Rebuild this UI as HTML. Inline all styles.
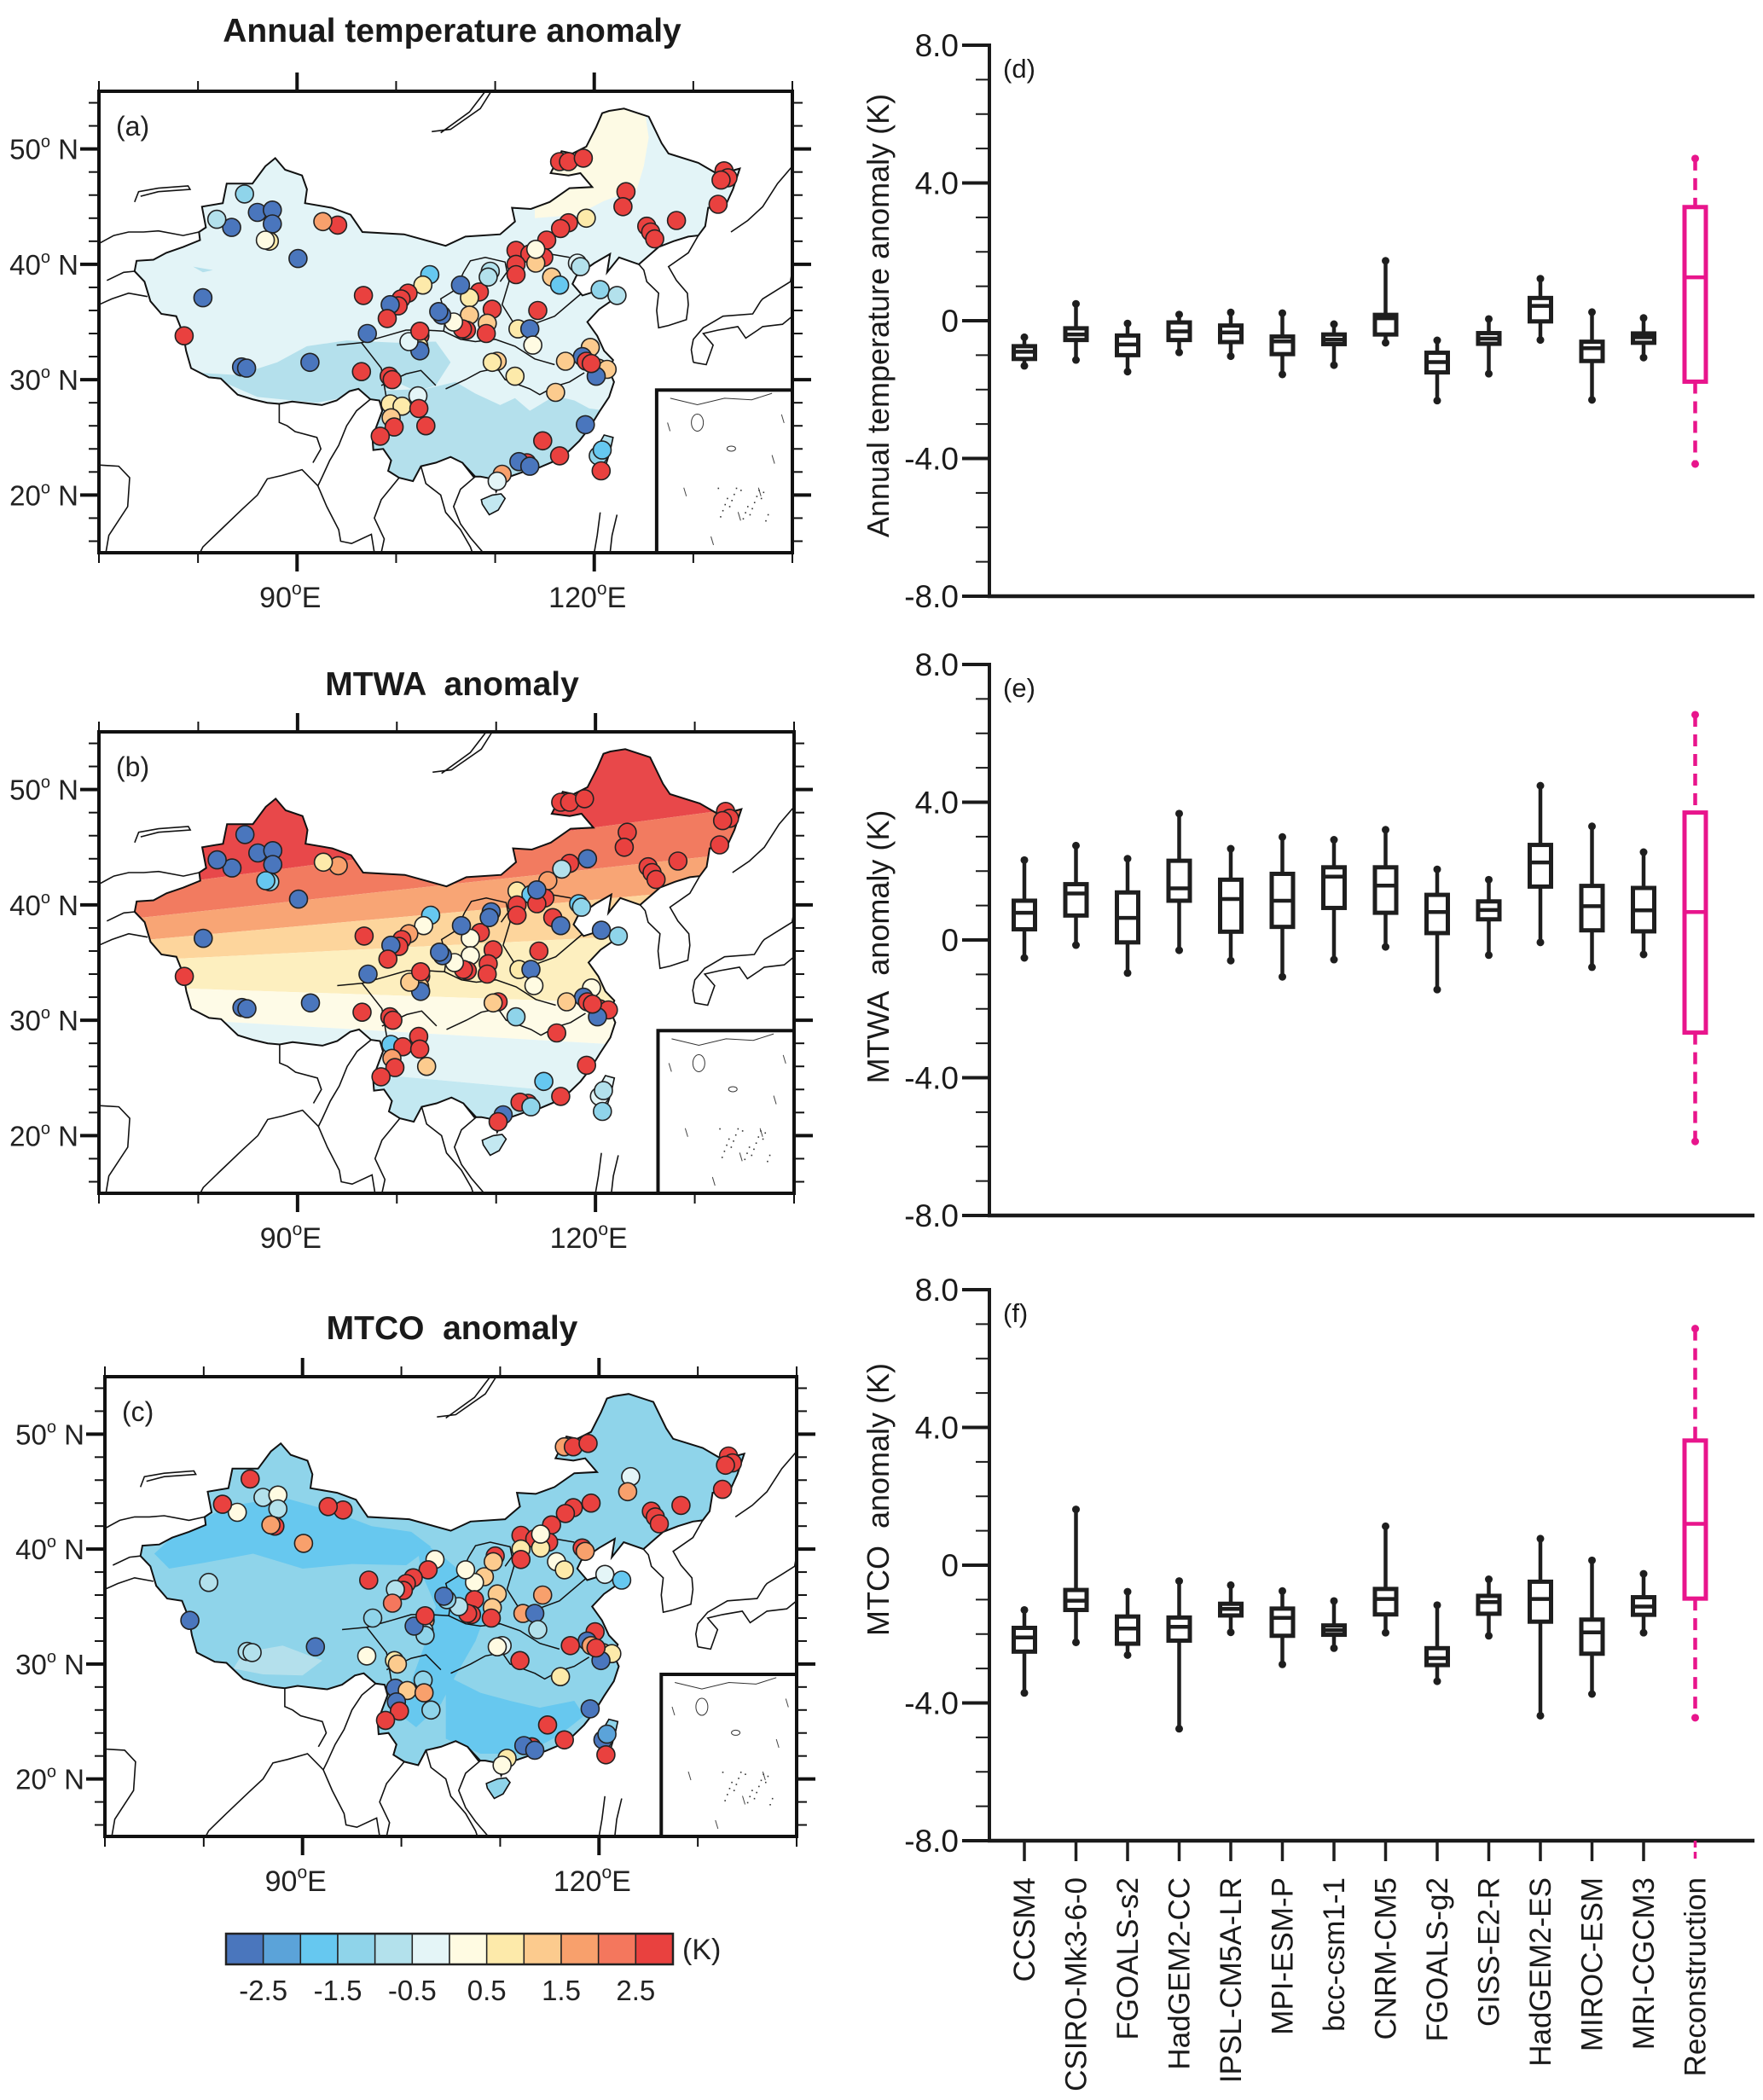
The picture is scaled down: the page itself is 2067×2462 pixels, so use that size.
<!DOCTYPE html>
<html><head><meta charset="utf-8"><style>
html,body{margin:0;padding:0;background:#fff;}
svg{display:block;font-family:"Liberation Sans",Arial,sans-serif;}
text{white-space:pre;}
</style></head><body>
<svg id="fig" xmlns="http://www.w3.org/2000/svg" width="2067" height="2462" viewBox="0 0 2067 2462" xml:space="preserve">
<rect x="0" y="0" width="2067" height="2462" fill="#fff"/>
<defs id="defs"></defs>
<g id="maps"></g>
<g id="boxes"></g>
</svg>
<script>
// ---------------- DATA: boxplots ----------------
const categories = ["CCSM4","CSIRO-Mk3-6-0","FGOALS-s2","HadGEM2-CC","IPSL-CM5A-LR","MPI-ESM-P","bcc-csm1-1","CNRM-CM5","FGOALS-g2","GISS-E2-R","HadGEM2-ES","MIROC-ESM","MRI-CGCM3","Reconstruction"];
const yTickValues = [8, 4, 0, -4, -8];
const yTickLabels = ["8.0", "4.0", "0", "-4.0", "-8.0"];
// Panel d: annual temperature anomaly
const annLow  = [-1.31,-1.14,-1.48,-0.92,-1.03,-1.56,-1.29,-0.64,-2.32,-1.54,-0.56,-2.30,-1.07,-4.16];
const annQ1   = [-1.11,-0.56,-1.00,-0.56,-0.62,-0.97,-0.68,-0.40,-1.50,-0.67,-0.02,-1.17,-0.64,-1.77];
const annMed  = [-0.90,-0.40,-0.69,-0.31,-0.34,-0.60,-0.55,0.07,-1.20,-0.52,0.43,-0.80,-0.48,1.26];
const annQ3   = [-0.74,-0.22,-0.43,-0.05,-0.14,-0.46,-0.40,0.17,-0.93,-0.36,0.66,-0.61,-0.37,3.30];
const annHigh = [-0.48,0.49,-0.08,0.18,0.24,0.22,-0.10,1.74,-0.57,0.05,1.22,0.25,0.08,4.71];
// Panel e: MTWA anomaly
const mtwaLow  = [-0.52,-0.15,-0.96,-0.30,-0.60,-1.07,-0.57,-0.20,-1.44,-0.44,-0.07,-0.79,-0.42,-5.85];
const mtwaQ1   = [0.31,0.71,-0.07,1.14,0.24,0.38,0.93,0.79,0.20,0.60,1.55,0.28,0.25,-2.69];
const mtwaMed  = [0.79,1.35,0.64,1.50,1.19,1.14,1.84,1.58,0.81,0.87,2.25,0.98,0.86,0.81];
const mtwaQ3   = [1.14,1.62,1.38,2.30,1.75,1.92,2.11,2.11,1.31,1.12,2.76,1.57,1.51,3.70];
const mtwaHigh = [2.32,2.74,2.36,3.67,2.65,2.99,2.91,3.20,2.05,1.75,4.48,3.30,2.55,6.54];
// Panel f: MTCO anomaly
const mtcoLow  = [-3.71,-2.24,-2.61,-4.75,-1.95,-2.88,-2.41,-1.96,-3.37,-2.05,-4.37,-3.74,-1.96,-4.43];
const mtcoQ1   = [-2.51,-1.30,-2.28,-2.19,-1.46,-2.05,-2.02,-1.43,-2.90,-1.41,-1.64,-2.57,-1.44,-0.97];
const mtcoMed  = [-2.10,-1.03,-1.84,-1.79,-1.27,-1.53,-1.89,-0.98,-2.70,-1.07,-0.98,-1.95,-1.20,1.20];
const mtcoQ3   = [-1.82,-0.72,-1.49,-1.52,-1.12,-1.26,-1.75,-0.69,-2.41,-0.89,-0.48,-1.58,-0.93,3.62];
const mtcoHigh = [-1.30,1.62,-0.77,-0.46,-0.58,-0.75,-1.04,1.13,-1.16,-0.41,0.77,0.14,-0.25,6.87];

// ---------------- DATA: map stations ----------------
const stationLon = [116.5,117.4,118.9,133.1,133.5,132.8,132.5,123.2,122.9,128.3,125.3,125.7,126.1,119.2,117.4,116.6,115.2,112.1,113.5,114.9,114.1,112.1,112.1,114.1,115.7,118.3,118.6,116.5,120.6,122.3,114.3,112.3,113.5,113.8,109.7,108.4,107.4,109.5,109.3,106.5,107.4,109.2,109.1,107.1,106.7,105.8,104.6,104.3,103.4,102.7,101.2,100.5,100.2,99.4,99.1,96.7,97.1,102.4,102.3,102.4,101.3,99.3,96.5,91.3,84.4,84.9,78.6,80.5,90.1,94.1,92.6,83.4,81.9,84.7,86.0,87.5,87.5,87.2,86.8,119.6,118.8,119.2,120.4,121.3,120.2,119.7,117.1,110.2,109.7,112.0,116.1,119.1,114.8,116.5,113.2,112.4,113.5,110.7,110.2,120.4,120.8,120.7,99.6,102.2,99.4,100.6,99.5,99.8,102.3,103.0,98.4,102.4];
const stationLat = [48.9,48.9,49.2,48.1,47.5,47.3,45.2,46.3,45.0,43.8,43.3,42.8,42.2,44.0,43.6,43.1,42.1,41.2,40.9,40.6,40.1,40.0,39.1,41.3,38.9,40.1,39.8,38.2,37.8,37.3,36.0,34.4,34.4,33.0,36.1,37.6,37.1,39.4,38.9,38.2,35.6,34.9,34.0,34.3,34.4,35.0,35.6,35.9,39.1,38.2,37.5,37.0,36.4,36.5,35.3,37.3,34.0,33.8,32.9,32.5,33.3,30.3,30.7,31.5,31.1,31.0,33.8,37.1,40.5,43.4,43.7,43.2,43.9,46.1,44.5,44.7,43.5,42.0,42.1,32.8,32.0,31.6,31.0,30.9,30.3,31.4,31.6,31.6,31.5,30.3,28.9,26.1,24.7,23.4,22.8,22.9,22.5,21.8,21.2,23.4,23.9,22.1,30.0,28.6,27.9,27.7,26.7,25.9,27.5,26.0,25.1,34.2];
const colorA = [11,11,11,11,11,11,11,11,11,11,11,11,11,7,11,11,11,11,11,11,8,11,11,6,8,5,4,2,3,4,11,7,0,6,11,11,7,4,4,0,8,8,11,11,11,6,0,0,2,7,11,11,11,0,11,11,0,11,7,0,5,11,11,0,0,0,11,0,0,11,9,0,4,3,0,0,0,7,6,8,0,11,8,8,0,11,8,8,7,7,8,0,11,11,11,0,0,9,5,3,2,11,11,5,7,7,8,11,11,11,11,11];
const colorB = [11,11,11,11,11,11,11,11,11,11,11,11,11,0,11,4,9,7,2,11,11,11,11,0,11,2,3,0,0,3,11,7,0,6,11,11,6,0,0,0,6,11,11,11,11,6,0,0,2,6,9,11,11,0,11,11,0,11,8,0,8,11,11,0,0,0,11,0,0,9,7,0,0,0,0,0,0,3,2,6,0,11,11,11,0,11,8,11,8,3,11,11,2,11,11,11,3,0,11,5,4,3,11,11,2,11,9,11,11,8,11,11,11];
const colorC = [9,11,11,11,11,11,11,5,9,11,11,11,11,11,11,11,11,11,11,11,7,7,11,6,6,11,9,7,5,2,9,9,0,4,8,8,6,11,8,6,11,8,11,11,11,4,3,0,6,11,11,11,11,4,10,11,3,9,4,3,0,7,6,0,4,4,0,4,9,11,11,6,11,11,4,6,4,11,9,11,0,9,9,7,0,11,11,5,6,11,7,0,11,11,11,0,0,7,6,0,1,11,8,3,0,8,0,11,9,3,11,11];
const palette = ["#4a76bd","#5ba3d9","#66c8f0","#8fd4ea","#b3e1ec","#e4f5f7","#fffbe2","#fdeaaa","#fccb8e","#f8a06c","#f4775d","#e9413f"];
const colorbarLabels = ["-2.5","-1.5","-0.5","0.5","1.5","2.5"];

// ---------------- geometry (lon/lat) ----------------
const china = [[121.5,53.3],[123,53.5],[125.5,52.8],[126.8,50.5],[127.5,49.6],[130.5,48.8],[132.5,47.8],[134.7,48.3],[134,46.5],[133.2,45],[131.5,44.9],[131.2,43.3],[130.5,42.5],[129.5,42.4],[128,42],[126.5,41.5],[124.5,40],[122.5,40.6],[121.3,39.3],[121.6,40.9],[120,40.1],[118.2,39],[117.8,38.3],[118.8,37.3],[120.7,37.8],[122.5,37.3],[120.5,36.1],[119.3,35],[120.3,33.8],[121,32.5],[121.9,31.7],[121.5,30.8],[122,29.8],[121.5,28.5],[120.5,27.2],[119.5,25.8],[118.5,24.7],[116.7,23.2],[114.5,22.4],[113.5,22.2],[111.5,21.6],[110.6,21.2],[110.1,20.3],[109.7,21.4],[108.5,21.6],[107.8,21.6],[106.7,22.8],[105.5,23.3],[104,22.8],[102.5,22.5],[101.7,21.2],[100.3,21.5],[99.2,22.1],[99.5,23],[98.7,24],[97.7,23.9],[97.6,25],[98.6,27.3],[98.3,28.2],[97.4,28.3],[96.2,29.2],[95.3,29],[94,28.2],[92.5,27.8],[91.5,27.9],[89.5,28.1],[88.2,27.9],[87,28],[85.5,28.3],[84,28.7],[82.3,30.1],[81.1,30.2],[79.3,31],[78.8,32.5],[78.5,34],[77.8,35.5],[76.3,35.7],[75.2,36.8],[74.6,38.5],[73.6,39.4],[73.8,40.3],[75.5,40.4],[76.8,41],[78.5,41.5],[80.2,42.1],[80.1,42.8],[80.8,43.2],[80.4,45],[82.5,45.3],[82.9,47],[85.5,47],[86.8,48.5],[87.8,49.2],[88.8,48.2],[90.5,47.7],[91,46.5],[90.8,45.3],[93.5,44.9],[95.4,44.3],[96.6,42.8],[100.8,42.6],[105,41.6],[107,42.4],[110.5,42.6],[112,43.7],[111.7,44.9],[113.6,44.8],[115.5,45.4],[117.5,46.6],[119.8,46.7],[118.6,47.9],[117.4,47.7],[115.6,47.9],[116.7,49.8],[117.8,49.6],[119.2,50.2],[120.2,51.9],[120.8,53.1]];
const hainan = [[108.7,19.2],[109.4,18.3],[110.3,18.7],[111,19.7],[110.6,20.1],[109.7,20],[108.6,19.6]];
const taiwan = [[121,25.2],[121.9,25],[121.6,23.8],[121,22.1],[120.2,22.6],[120.1,23.6],[120.6,24.6]];
const lines = [
 [[103.6,51.5],[105.5,51.7],[108.5,53.5],[109.6,55]],
 [[104.5,51.4],[107.4,53.2],[109,55]],
 [[73.6,45.4],[74,46.3],[76,46.6],[79,46.8],[79.2,46.5],[76,46.3],[74.2,45.9]],
 [[124.5,40],[125,39.5],[125.3,38.5],[126.5,37.5],[126.3,36],[126.5,34.5],[127.5,34.7],[129.3,35.2],[129.5,36.5],[129.4,37.5],[128.3,38.6],[127.5,39.8],[129.5,41],[130.5,42.5]],
 [[130,31.5],[131.3,31.3],[132,33],[131,34],[132.5,34.3],[134.5,34.6],[135.3,33.6],[136.5,34.3],[137,34.6],[139,34.8],[140,35.5],[140.8,37],[141,38.5],[142,40]],
 [[140.2,40.5],[139.8,38.5],[138.5,37.8],[137,37],[136.8,36.8],[136,35.7],[133,35.5],[131,34.5],[130,33.5],[129.8,32.6],[130,31.5]],
 [[133.8,42.8],[135.5,43.8],[137,45],[138.5,47],[140,48.5],[140.5,50.5],[140.8,52.5],[140.6,55]],
 [[97.4,28.3],[96,27.3],[95,26],[94.2,24.3],[93.3,23],[92.5,21.5],[92.1,20.8]],
 [[88.2,27.9],[88.2,26.3],[89,26],[89.8,25.5],[92,25],[92.4,24],[91.6,22.8]],
 [[92.1,20.8],[90.5,22.2],[88.5,21.7],[87,21.4],[86,20],[84.5,18.8],[82.3,17],[80.5,15.5],[80.2,15]],
 [[92.1,20.8],[93,19],[94.2,17],[94.4,16],[95.5,15.8],[97.5,16.6],[97.8,15]],
 [[100.3,21.5],[98.5,19.6],[97.8,18],[98.8,16.2],[98.5,15]],
 [[102.5,22.5],[103,21],[104.5,20],[105,18.5],[106.5,17],[107.5,15.5],[107.7,15]],
 [[106.7,22.8],[108,21.6],[106.5,20.5],[105.8,19],[106.5,17.5],[107.5,16.3],[108.8,15]],
 [[120.6,18.5],[120.3,16.5],[120,15]],
 [[122.3,18.3],[121.8,16.5],[121.6,15]],
 [[70,41.8],[71.5,42.5],[73,42.8],[74.5,42.8],[76,42.9],[78.5,42.5],[80.1,42.8]],
 [[70.8,38.6],[72.5,39.3],[73.6,39.4]],
 [[70,36.5],[71.3,37],[73,37.5],[74.9,37.2]],
 [[70.7,15],[71,16.5],[72.9,19],[73.1,21.5],[72,22.5],[70,22.6]]
];
const inner = [
 [[96.5,33.2],[99,33.8],[101,34.3],[103,34.3],[104.8,34.2],[106.5,33.5],[108,33.3],[110,33.5],[112,32.9],[114,31.8],[116,31.3]],
 [[104.8,34.2],[105,35.5],[104.5,37],[106,37.8],[106.8,39.3],[107.5,40.3],[109,40.6],[111,40.2],[111.4,38.5],[110.7,36.5],[111.8,35],[113.8,34.8],[116,35.5],[118.6,37.4]],
 [[94,33],[96.5,33.2],[98.5,31],[99,28.5]],
 [[105,29.2],[107,30],[108.5,30.7],[110.2,31],[111,30],[113.5,29.2],[114.5,28.7],[116,29.4],[117.5,29.8],[119,30.6]],
 [[110.5,38.5],[112,40.3],[113.8,40.8],[115.5,40.9],[117.5,40.6]],
 [[98.5,29.5],[101,30.5],[102.5,30.8],[104,29.5]]
];
// shading patches
const shadeA = [
 {c:"#b4e0ec",p:[[79,31],[82,30],[86,28.5],[92,28],[95,28.5],[97,28],[98.5,29],[100.5,29.6],[102,29],[104,29.5],[105.5,31.5],[104,33.3],[100,33.2],[95,33.4],[91,32.9],[88,31.5],[84,30.4],[80,30.6]]},
 {c:"#b4e0ec",p:[[97,29],[103,29.2],[106,29.8],[108,28.8],[110.5,27.8],[112,28.4],[113.5,27.3],[116,28.6],[118,28.2],[119.5,27.5],[124,27],[124,18],[96,18]]},
 {c:"#b4e0ec",p:[[79.5,39.8],[81.5,39.5],[80.5,39.3]]},
 {c:"#fdfae4",p:[[118.3,44.3],[121,45.5],[124.3,46.5],[125,48.5],[125.5,51],[124.8,55],[114,55],[114,44]]}
];
const shadeC = [
 {c:"#67c8ef",p:[[75,39.6],[78,42],[83,43.8],[88,44.5],[93,43.3],[97,42],[101,41.5],[103,40.2],[100.5,38.6],[95,38.7],[90,38.3],[85,39.6],[80,38.8],[76.5,38.3]]},
 {c:"#67c8ef",p:[[101.5,41],[104,39.5],[106.5,37.7],[108.8,35],[107.5,32],[105.5,29],[104,26.5],[101.5,24.5],[100,25.5],[101,28.5],[102.5,32],[103.5,35],[102,38]]},
 {c:"#67c8ef",p:[[104.5,29],[108,27.5],[111,26.8],[114,26.2],[117.5,26.8],[118.5,25.5],[116,23.8],[112.5,22.2],[108,22.2],[104.5,23.5]]},
 {c:"#b4e0ec",p:[[84,31],[88,31.6],[92,30.3],[90,29],[86,29.1],[83,29.6]]}
];
// MTWA bands: boundary latitude at lon 70 and at lon 140 (top boundary of each band)
const bandColors = ["#e8484a","#f27b60","#f8a575","#fdd59c","#fdefbf","#fefbe7","#e3f4f6","#c3e8f1"];
const bandTopW = [60,41,38.5,36.6,35,33,30.5,27.5];
const bandTopE = [60,49,45,42,38,31,27,22];

// ---------------- helpers ----------------
const NS = "http://www.w3.org/2000/svg";
const svg = document.getElementById("fig");
const defs = document.getElementById("defs");
function mk(tag, attrs, parent) {
  const e = document.createElementNS(NS, tag);
  for (const k in attrs) e.setAttribute(k, attrs[k]);
  if (parent) parent.appendChild(e);
  return e;
}

// ---------------- maps ----------------
const panels = [
 {id:"a", title:"Annual temperature anomaly", x0:116, x1:929, y0:107, y1:648, titleY:49, colors:colorA, kind:"a"},
 {id:"b", title:"MTWA  anomaly", x0:116, x1:931, y0:858, y1:1399, titleY:815, colors:colorB, kind:"b"},
 {id:"c", title:"MTCO  anomaly", x0:123, x1:934, y0:1614, y1:2153, titleY:1570, colors:colorC, kind:"c"}
];
const mapsG = document.getElementById("maps");
panels.forEach(P => {
  const px = lon => P.x0 + (lon - 70) * (P.x1 - P.x0) / 70;
  const py = lat => P.y0 + (55 - lat) * (P.y1 - P.y0) / 40;
  const pts = arr => arr.map(q => px(q[0]).toFixed(1) + "," + py(q[1]).toFixed(1)).join(" ");
  const g = mk("g", {}, mapsG);
  
  
  // title
  const t = mk("text", {x:530, y:P.titleY, "text-anchor":"middle", "font-size":39, "font-weight":"bold", fill:"#1a1a1a"}, g);
  t.textContent = P.title;
  
  
  // clip paths
  const cf = mk("clipPath", {id:"frame" + P.id}, defs);
  mk("rect", {x:P.x0, y:P.y0, width:P.x1 - P.x0, height:P.y1 - P.y0}, cf);
  const cc = mk("clipPath", {id:"china" + P.id}, defs);
  mk("polygon", {points:pts(china)}, cc);
  const inner_g = mk("g", {"clip-path":"url(#frame" + P.id + ")"}, g);
  // shading
  const sh = mk("g", {"clip-path":"url(#china" + P.id + ")"}, inner_g);
  
  
  if (P.kind === "a") {
    mk("polygon", {points:pts(china), fill:"#e3f4f7"}, sh);
    shadeA.forEach(s => mk("polygon", {points:pts(s.p), fill:s.c}, sh));
  } else if (P.kind === "c") {
    mk("polygon", {points:pts(china), fill:"#8fd4ea"}, sh);
    shadeC.forEach(s => mk("polygon", {points:pts(s.p), fill:s.c}, sh));
  } else {
    for (let i = 0; i < bandColors.length; i++) {
      const bw = i + 1 < bandColors.length ? bandTopW[i + 1] : 10;
      const be = i + 1 < bandColors.length ? bandTopE[i + 1] : 10;
      mk("polygon", {points:pts([[70, bandTopW[i]], [140, bandTopE[i]], [140, be], [70, bw]]), fill:bandColors[i]}, sh);
    }
  }
  // islands shading
  mk("polygon", {points:pts(hainan), fill:P.kind === "c" ? "#8fd4ea" : "#c3e8f1", stroke:"#111", "stroke-width":1.6}, inner_g);
  mk("polygon", {points:pts(taiwan), fill:P.kind === "c" ? "#8fd4ea" : (P.kind === "a" ? "#b4e0ec" : "#e3f4f6"), stroke:"#111", "stroke-width":1.6}, inner_g);
  // borders
  mk("polygon", {points:pts(china), fill:"none", stroke:"#111", "stroke-width":2}, inner_g);
  lines.forEach(l => mk("polyline", {points:pts(l), fill:"none", stroke:"#111", "stroke-width":1.6}, inner_g));
  inner.forEach(l => mk("polyline", {points:pts(l), fill:"none", stroke:"#111", "stroke-width":1.5}, inner_g));
  // stations
  const sg = mk("g", {}, inner_g);
  
  
  for (let i = 0; i < stationLon.length; i++) {
    const c = mk("circle", {cx:px(stationLon[i]).toFixed(1), cy:py(stationLat[i]).toFixed(1), r:10.5, fill:palette[P.colors[i]], stroke:"#222", "stroke-width":1.6}, sg);
    
    
  }
  // inset (South China Sea)
  const ix = px(126.3), iy = py(29.1);
  const ins = mk("g", {}, g);
  
  
  mk("rect", {x:ix, y:iy, width:P.x1 - ix, height:P.y1 - iy, fill:"#fff", stroke:"#111", "stroke-width":4}, ins);
  const iw = P.x1 - ix, ih = P.y1 - iy;
  mk("polyline", {points:[[0.1,0.05],[0.3,0.09],[0.5,0.05],[0.7,0.06],[0.85,0.02]].map(q => (ix + q[0]*iw) + "," + (iy + q[1]*ih)).join(" "), fill:"none", stroke:"#333", "stroke-width":1}, ins);
  mk("ellipse", {cx:ix + 0.3*iw, cy:iy + 0.2*ih, rx:7, ry:10, fill:"none", stroke:"#333", "stroke-width":1}, ins);
  mk("ellipse", {cx:ix + 0.55*iw, cy:iy + 0.36*ih, rx:5, ry:3, fill:"none", stroke:"#333", "stroke-width":1}, ins);
  [[0.08,0.2],[0.92,0.15],[0.85,0.4],[0.2,0.6],[0.75,0.6],[0.6,0.75],[0.4,0.9]].forEach(q =>
    mk("line", {x1:ix + q[0]*iw, y1:iy + q[1]*ih, x2:ix + q[0]*iw + 3, y2:iy + q[1]*ih + 10, stroke:"#444", "stroke-width":1}, ins));
  for (let k = 0; k < 22; k++) {
    const dx = 0.45 + ((k * 37) % 23) / 60, dy = 0.6 + ((k * 13) % 17) / 80;
    mk("rect", {x:ix + dx*iw, y:iy + dy*ih, width:1.6, height:1.6, fill:"#333"}, ins);
  }
  // frame
  const fr = mk("rect", {x:P.x0, y:P.y0, width:P.x1 - P.x0, height:P.y1 - P.y0, fill:"none", stroke:"#111", "stroke-width":4}, g);
  
  
  // lon ticks
  for (let lon = 70; lon <= 140; lon += 10) {
    const major = (lon === 90 || lon === 120);
    const L = major ? 22 : 12;
    mk("line", {x1:px(lon), y1:P.y0, x2:px(lon), y2:P.y0 - L, stroke:"#111", "stroke-width":major ? 4 : 2}, g);
    mk("line", {x1:px(lon), y1:P.y1, x2:px(lon), y2:P.y1 + L, stroke:"#111", "stroke-width":major ? 4 : 2}, g);
    if (major) {
      const lt = mk("text", {x:px(lon) - 8, y:P.y1 + 64, "text-anchor":"middle", "font-size":34, fill:"#222"}, g);
      lt.innerHTML = lon + '<tspan dy="-15" font-size="21">o</tspan><tspan dy="15">E</tspan>';
      
      
    }
  }
  // lat ticks
  for (let lat = 16; lat <= 54; lat += 2) {
    const major = lat % 10 === 0;
    const L = major ? 22 : 12;
    mk("line", {x1:P.x0, y1:py(lat), x2:P.x0 - L, y2:py(lat), stroke:"#111", "stroke-width":major ? 4 : 2}, g);
    mk("line", {x1:P.x1, y1:py(lat), x2:P.x1 + L, y2:py(lat), stroke:"#111", "stroke-width":major ? 4 : 2}, g);
    if (major) {
      const lt = mk("text", {x:P.x0 - 24, y:py(lat) + 12, "text-anchor":"end", "font-size":33, fill:"#222"}, g);
      lt.innerHTML = lat + '<tspan dy="-14" font-size="20">o</tspan><tspan dy="14"> N</tspan>';
      
      
    }
  }
  const pl = mk("text", {x:P.x0 + 20, y:P.y0 + 52, "font-size":32, fill:"#222"}, g);
  pl.textContent = "(" + P.id + ")";
  
  
});

// colorbar
const cb = mk("g", {}, mapsG);


const cbx0 = 265, cbx1 = 789, cby = 2267, cbh = 36;
const cw = (cbx1 - cbx0) / palette.length;
palette.forEach((c, i) => {
  const r = mk("rect", {x:cbx0 + i*cw, y:cby, width:cw, height:cbh, fill:c, stroke:"#222", "stroke-width":1.5}, cb);
  
  
});
mk("rect", {x:cbx0, y:cby, width:cbx1 - cbx0, height:cbh, fill:"none", stroke:"#222", "stroke-width":2.5}, cb);
colorbarLabels.forEach((s, i) => {
  const t = mk("text", {x:cbx0 + (2*i + 1)*cw, y:2345, "text-anchor":"middle", "font-size":33, fill:"#222"}, cb);
  t.textContent = s;
  
  
});
const ku = mk("text", {x:800, y:2297, "font-size":34, fill:"#222"}, cb);
ku.textContent = "(K)";



// ---------------- boxplots ----------------
const boxPanels = [
 {id:"d", title:"Annual temperature anomaly (K)", center:376, low:annLow, q1:annQ1, med:annMed, q3:annQ3, high:annHigh, titleY:370},
 {id:"e", title:"MTWA  anomaly (K)", center:1102, low:mtwaLow, q1:mtwaQ1, med:mtwaMed, q3:mtwaQ3, high:mtwaHigh, titleY:1110},
 {id:"f", title:"MTCO  anomaly (K)", center:1835, low:mtcoLow, q1:mtcoQ1, med:mtcoMed, q3:mtcoQ3, high:mtcoHigh, titleY:1758}
];
const boxesG = document.getElementById("boxes");
const axX = 1160, axRight = 2057, perUnit = 323 / 8;
const xPos = i => 1201 + i * 60.5;
boxPanels.forEach((B, pi) => {
  const y = v => B.center - v * perUnit;
  const g = mk("g", {}, boxesG);
  
  
  // axes
  mk("line", {x1:axX, y1:y(8) - 2, x2:axX, y2:y(-8), stroke:"#1a1a1a", "stroke-width":4}, g);
  mk("line", {x1:axX - 2, y1:y(-8), x2:axRight, y2:y(-8), stroke:"#1a1a1a", "stroke-width":4.5}, g);
  for (let v = -8; v <= 8; v++) {
    const major = v % 4 === 0;
    mk("line", {x1:axX, y1:y(v), x2:axX - (major ? 32 : 16), y2:y(v), stroke:"#1a1a1a", "stroke-width":major ? 4 : 2}, g);
  }
  yTickValues.forEach((v, i) => {
    const t = mk("text", {x:axX - 36, y:y(v) + 13, "text-anchor":"end", "font-size":37, fill:"#1a1a1a"}, g);
    t.textContent = yTickLabels[i];
    
    
  });
  const yt = mk("text", {x:0, y:0, transform:"translate(1042," + B.titleY + ") rotate(-90)", "text-anchor":"middle", "font-size":36, fill:"#1a1a1a"}, g);
  yt.textContent = B.title;
  
  
  const pl = mk("text", {x:1176, y:y(8) + 38, "font-size":31, fill:"#1a1a1a"}, g);
  pl.textContent = "(" + B.id + ")";
  
  
  // boxes
  categories.forEach((cat, i) => {
    const recon = i === categories.length - 1;
    const col = recon ? "#e8158c" : "#1e1e1e";
    const x = xPos(i), w = 25;
    const bg = mk("g", {}, g);
    
    
    const dash = recon ? {"stroke-dasharray":"14 9"} : {};
    mk("line", Object.assign({x1:x, y1:y(B.high[i]), x2:x, y2:y(B.q3[i]), stroke:col, "stroke-width":4.5}, dash), bg);
    mk("line", Object.assign({x1:x, y1:y(B.q1[i]), x2:x, y2:y(B.low[i]), stroke:col, "stroke-width":4.5}, dash), bg);
    mk("circle", {cx:x, cy:y(B.high[i]), r:4.5, fill:col}, bg);
    mk("circle", {cx:x, cy:y(B.low[i]), r:4.5, fill:col}, bg);
    mk("rect", {x:x - w/2, y:y(B.q3[i]), width:w, height:Math.max(1, y(B.q1[i]) - y(B.q3[i])), fill:"#fff", stroke:col, "stroke-width":5}, bg);
    mk("line", {x1:x - w/2, y1:y(B.med[i]), x2:x + w/2, y2:y(B.med[i]), stroke:col, "stroke-width":4.5}, bg);
    if (pi === 2) {
      mk("line", {x1:x, y1:y(-8), x2:x, y2:y(-8) + 24, stroke:col, "stroke-width":3.5, "stroke-dasharray": recon ? "8 5" : "none"}, g);
      const ct = mk("text", {x:0, y:0, transform:"translate(" + (x + 12) + ",2201) rotate(-90)", "text-anchor":"end", "font-size":35, fill:"#1a1a1a"}, g);
      ct.textContent = cat;
      
      
    }
  });
});
</script>
</body></html>
